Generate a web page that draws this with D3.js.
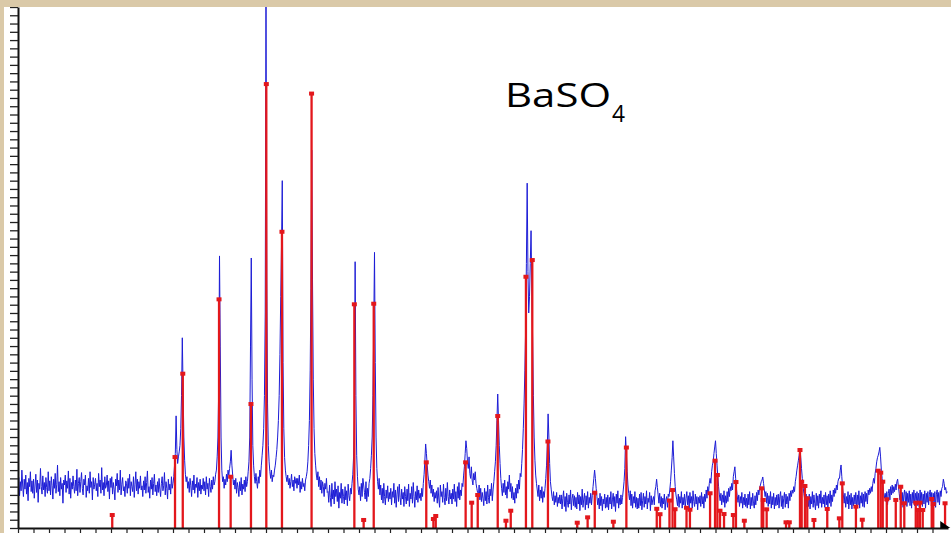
<!DOCTYPE html>
<html><head><meta charset="utf-8">
<script src="https://cdn.jsdelivr.net/npm/d3@7"></script>
<style>html,body{margin:0;padding:0;background:#fff;overflow:hidden}</style>
</head><body>
<svg id="chart" width="951" height="533"></svg>
<script>
// ---- data ----
const startAngle = 10.0;   // 2-theta of first measured point (deg)
const angleStep = 0.05;    // step between measured points (deg)
const intensity = [
480,610,390,560,450,700,520,380,590,470,640,410,550,330,600,500,680,440,570,420,
590,360,520,650,430,580,310,540,470,720,500,410,630,460,550,380,610,490,420,680,
450,570,400,620,510,350,590,480,660,420,530,760,440,560,390,610,470,540,300,580,
520,640,430,570,480,690,410,600,360,550,470,630,500,420,580,450,710,390,540,610,
430,560,670,480,400,590,520,640,370,510,450,600,420,680,490,560,340,610,470,530,
600,450,540,380,660,500,580,420,730,460,550,390,620,480,510,640,440,570,350,600,
490,620,410,550,470,340,590,510,660,430,580,460,700,400,530,610,450,500,380,570,
540,420,600,480,650,390,560,500,440,620,370,530,680,450,590,410,560,480,630,460,
510,380,570,460,620,420,550,690,430,500,360,580,470,610,400,540,650,440,520,390,
560,430,600,470,380,540,620,450,510,670,400,560,480,350,590,460,530,410,620,480,
540,620,760,900,1356,950,780,860,920,1000,1200,1600,2300,1700,1100,820,650,560,620,480,
560,430,600,510,380,570,460,640,420,530,490,610,370,550,450,590,410,520,470,600,
450,560,400,620,470,540,380,600,500,430,580,470,620,520,560,650,700,860,1100,1700,
3290,2200,1100,700,560,620,480,590,520,650,560,700,640,720,800,940,760,640,520,580,
470,600,420,550,490,380,560,450,610,400,530,470,580,440,620,500,560,680,800,1100,
2200,3265,1800,1000,760,620,540,660,560,480,620,540,700,620,760,880,1000,1200,1600,2600,
6600,3000,1500,1000,800,680,600,700,560,640,620,700,760,850,950,1100,1300,1600,2100,2800,
3400,4200,2000,1200,850,700,620,560,640,520,600,480,560,650,500,580,450,620,540,600,
480,600,520,640,430,560,470,600,500,540,450,580,620,680,800,1000,1300,1900,2900,4570,
3000,1800,1200,900,760,640,580,680,500,620,460,580,420,560,500,380,540,470,600,430,
440,310,520,370,260,540,350,460,290,560,380,470,320,510,240,430,360,540,300,470,
380,290,500,340,450,270,530,390,330,480,410,540,650,860,1300,3220,1600,880,620,470,
400,500,330,540,380,600,520,430,350,560,320,480,380,540,600,720,880,1100,1600,2400,
3333,2000,1100,720,560,470,600,400,520,340,480,300,540,380,280,460,360,510,320,430,
350,480,280,440,370,540,300,460,250,410,500,320,530,370,280,470,350,430,260,500,
380,290,470,330,530,260,420,350,500,300,550,380,250,440,340,510,310,460,360,420,
330,480,380,540,650,820,1016,900,760,640,560,480,580,420,520,380,470,320,430,360,
450,300,490,350,250,520,380,440,310,530,370,280,480,330,550,380,290,460,350,420,
290,470,350,530,320,440,260,500,360,550,340,460,390,540,500,640,740,900,1055,960,
800,720,860,660,600,740,580,520,660,580,680,540,480,430,380,520,340,480,320,430,
360,270,480,330,440,290,520,370,300,470,390,540,330,460,560,680,800,1000,1300,1620,
1300,1000,780,600,480,390,540,430,580,400,500,360,560,470,640,440,540,360,500,340,
430,300,480,360,530,420,580,470,660,620,780,950,1200,1500,1900,2400,3200,4170,3100,2600,
2800,3200,3595,2900,2300,1600,1100,820,640,540,460,380,520,330,460,360,500,310,440,370,
480,600,760,1000,1380,1100,780,560,470,380,330,440,280,390,310,430,260,370,300,400,
290,400,230,360,450,260,380,200,420,310,250,400,290,460,220,360,410,270,390,250,
370,230,430,290,400,210,380,280,470,250,350,420,220,390,280,440,240,370,300,420,
280,390,500,600,700,600,480,380,280,360,230,420,270,380,210,350,290,410,240,370,
250,400,220,370,290,440,230,340,420,260,380,200,410,300,450,240,360,280,400,290,
370,460,560,720,1104,900,680,520,420,340,450,270,410,240,380,300,440,250,370,230,
360,240,410,270,430,220,330,420,250,380,290,450,230,360,310,430,210,390,280,340,
380,280,450,500,590,490,400,300,420,260,380,240,360,290,410,220,340,380,250,410,
380,460,560,700,850,1055,860,660,500,400,340,270,410,250,380,300,440,240,370,280,
410,250,360,440,280,390,230,430,300,380,240,450,320,260,410,290,380,220,370,300,
390,260,430,290,380,240,410,320,460,360,500,420,540,600,540,680,760,800,900,980,
1055,900,760,620,500,400,330,420,280,400,310,450,250,390,300,440,320,480,380,500,
450,540,460,620,680,740,600,480,390,310,400,260,380,300,430,240,370,280,410,260,
360,240,410,280,440,230,370,270,420,300,240,390,280,430,330,460,400,490,520,560,
580,617,540,460,380,440,300,420,260,390,290,440,240,380,280,420,230,370,270,400,
280,410,240,380,440,260,390,230,360,430,250,410,290,380,240,420,330,450,380,460,
420,500,440,560,620,700,760,820,880,963,850,720,600,500,420,350,280,410,250,380,
260,410,230,380,290,440,250,400,300,220,420,270,390,240,410,300,450,250,370,290,
400,250,430,280,390,240,410,300,450,260,400,320,460,380,480,420,520,460,560,600,
600,700,762,620,480,400,300,420,250,380,290,440,230,400,280,420,230,370,270,400,
290,430,250,400,280,450,240,390,300,430,260,410,250,440,320,420,290,460,400,480,
420,500,440,540,600,540,660,720,800,850,880,920,975,860,700,600,500,420,360,420,
320,440,280,420,470,340,500,400,520,420,500,440,530,460,560,590,500,420,340,430,
280,430,250,400,460,290,440,260,420,310,450,270,410,240,430,300,460,270,420,330,
440,270,420,250,460,300,430,260,410,290,450,240,420,310,440,280,410,460,320,430,
260,420,290,440,250,410,460,310,430,280,450,380,480,500,590,540,460,490,420,440
];
const refAngles = [16.08,20.13,20.63,22.97,23.72,25.03,26.02,27.03,28.94,31.70,32.30,32.95,
36.34,36.80,36.95,38.88,39.27,39.66,40.95,41.48,41.79,42.77,43.18,44.19,46.08,46.75,47.21,48.41,
49.25,51.21,51.42,52.03,52.23,52.39,53.13,53.35,54.65,54.97,55.12,55.29,55.55,56.15,56.32,56.86,
57.98,58.08,58.30,59.55,59.76,60.45,60.56,60.77,60.92,61.35,62.21,62.99,63.18,64.06,64.47,
65.50,65.66,65.79,66.05,66.63,66.95,67.18,67.92,68.05,68.19,68.37,68.95,69.05,69.81];
const refIntensity = [157,858,1866,2765,620,1499,5368,3582,5253,2705,97,2712,
794,109,145,794,306,399,1354,88,209,3038,3240,1046,64,129,427,76,
973,232,167,332,459,227,245,221,420,814,641,209,169,157,556,88,
480,339,226,69,69,943,560,508,359,97,230,117,540,258,100,
693,669,560,347,339,499,299,306,218,306,218,351,290,299];
const xTickValues = d3.range(10, 70, 1);
const yTickValues = d3.range(0, 6301, 100);
const titleMain = "BaSO";
const titleSub = "4";

// ---- drawing ----
const svg = d3.select("#chart");
const x = d3.scaleLinear().domain([10, 70]).range([18, 948]);
const y = d3.scaleLinear().domain([0, 6300]).range([528, 7]);

svg.append("rect").attr("width", 951).attr("height", 533).attr("fill", "#fff");

svg.append("defs").append("clipPath").attr("id", "plotclip")
  .append("rect").attr("x", 18).attr("y", 7).attr("width", 933).attr("height", 521);

const pts = intensity.map((v, i) => [startAngle + i * angleStep, v]);
const line = d3.line().x(d => x(d[0])).y(d => y(d[1]));

const plot = svg.append("g").attr("clip-path", "url(#plotclip)");
plot.append("path").datum(pts).attr("d", line)
  .attr("fill", "none").attr("stroke", "#1c1cd6").attr("stroke-width", 1)
  .attr("stroke-linejoin", "round");

const refs = refAngles.map((a, i) => ({a, v: refIntensity[i]}));
plot.selectAll("line.stick").data(refs).enter().append("line")
  .attr("class", "stick")
  .attr("x1", d => x(d.a)).attr("x2", d => x(d.a))
  .attr("y1", y(0)).attr("y2", d => y(d.v))
  .attr("stroke", "#e3171c").attr("stroke-width", 2.3);
plot.selectAll("rect.mk").data(refs).enter().append("rect")
  .attr("class", "mk")
  .attr("x", d => x(d.a) - 2.5).attr("y", d => y(d.v) - 2)
  .attr("width", 5).attr("height", 4).attr("fill", "#e3171c");

// axes
const yAxis = d3.axisLeft(y).tickValues(yTickValues).tickSize(8).tickSizeOuter(0).tickFormat("");
const gy = svg.append("g").attr("transform", "translate(18,0)").call(yAxis);
gy.select(".domain").attr("stroke", "#111").attr("stroke-width", 2);
gy.selectAll(".tick line").attr("stroke", "#222").attr("stroke-width", 1.3);

const xAxis = d3.axisBottom(x).tickValues(xTickValues).tickSize(6).tickSizeOuter(0).tickFormat("");
const gx = svg.append("g").attr("transform", "translate(0,528)").call(xAxis);
gx.select(".domain").attr("stroke", "#111").attr("stroke-width", 2);
gx.selectAll(".tick line").attr("stroke", "#222").attr("stroke-width", 1.2);

// arrow head at end of x axis
svg.append("path")
  .attr("d", `M${x(69.5)},${y(0) - 7}L${x(70.15)},${y(0)}L${x(69.5)},${y(0)}Z`)
  .attr("fill", "#000");

// title
svg.append("text").attr("x", 505).attr("y", 107)
  .attr("font-family", "'Open Sans', 'Noto Sans', sans-serif")
  .attr("font-size", 33).attr("fill", "#000")
  .attr("textLength", 106).attr("lengthAdjust", "spacingAndGlyphs")
  .text(titleMain);
svg.append("text").attr("x", 612).attr("y", 122)
  .attr("font-family", "'Open Sans', 'Noto Sans', sans-serif")
  .attr("font-size", 23).attr("fill", "#000")
  .attr("textLength", 13).attr("lengthAdjust", "spacingAndGlyphs")
  .text(titleSub);

// beige frame
svg.append("rect").attr("x", 0).attr("y", 0).attr("width", 951).attr("height", 7).attr("fill", "#dac9a8");
svg.append("rect").attr("x", 0).attr("y", 0).attr("width", 4).attr("height", 533).attr("fill", "#dac9a8");
</script>
</body></html>
